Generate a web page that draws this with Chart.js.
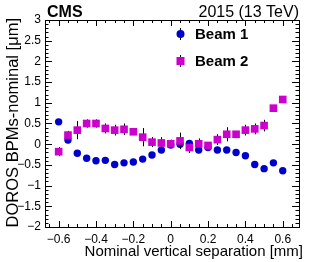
<!DOCTYPE html>
<html>
<head>
<meta charset="utf-8">
<script src="https://cdn.jsdelivr.net/npm/chart.js@4.4.1/dist/chart.umd.min.js"></script>
<style>
  html, body { margin: 0; padding: 0; background: #fff; }
  #wrap { width: 332px; height: 262px; }
</style>
</head>
<body>
<div id="wrap"><canvas id="chart" width="332" height="262"></canvas></div>
<script>
// Nominal vertical separation [mm]
const separation = [-0.6, -0.55, -0.5, -0.45, -0.4, -0.35, -0.3, -0.25, -0.2, -0.15, -0.1, -0.05,
    0, 0.05, 0.1, 0.15, 0.2, 0.25, 0.3, 0.35, 0.4, 0.45, 0.5, 0.55, 0.6];

// DOROS BPMs - nominal [um]
const beam1 = [0.54, 0.10, -0.22, -0.34, -0.40, -0.39, -0.49, -0.45, -0.43, -0.36, -0.26, -0.14,
    -0.02, 0.00, 0.02, -0.14, -0.08, -0.14, -0.14, -0.20, -0.28, -0.49, -0.59, -0.45, -0.64];
const beam1Err = [0.06, 0.08, 0.06, 0.06, 0.06, 0.06, 0.07, 0.06, 0.06, 0.06, 0.06, 0.06,
    0.06, 0.06, 0.06, 0.06, 0.06, 0.06, 0.06, 0.06, 0.06, 0.06, 0.06, 0.06, 0.06];

const beam2 = [-0.18, 0.22, 0.34, 0.50, 0.50, 0.38, 0.34, 0.36, 0.30, 0.17, 0.05, 0.03,
    0.01, 0.08, -0.08, 0.01, -0.03, 0.11, 0.24, 0.24, 0.34, 0.37, 0.45, 0.87, 1.08];
const beam2Err = [0.11, 0.10, 0.22, 0.10, 0.10, 0.12, 0.13, 0.14, 0.08, 0.22, 0.12, 0.14,
    0.10, 0.20, 0.13, 0.13, 0.08, 0.13, 0.17, 0.06, 0.13, 0.13, 0.14, 0.05, 0.05];

const xTickLabels = [-0.6, -0.4, -0.2, 0, 0.2, 0.4, 0.6];
const yTickLabels = [-2, -1.5, -1, -0.5, 0, 0.5, 1, 1.5, 2, 2.5, 3];

const BLUE = '#0000cc';
const MAGENTA = '#cc00cc';
const FONT = '"Liberation Sans", Arial, sans-serif';

const errors = [beam1Err, beam2Err];

function fmt(v) {
    const s = String(Math.round(v * 10) / 10);
    return v < 0 ? '\u2212' + s.slice(1) : s;
}

// vertical error bars per dataset, drawn just before its markers
const errorBars = {
    id: 'errorBars',
    beforeDatasetDraw(chart, args) {
        const ctx = chart.ctx;
        const x = chart.scales.x, y = chart.scales.y;
        const err = errors[args.index];
        const ds = chart.data.datasets[args.index];
        ctx.save();
        ctx.strokeStyle = '#000';
        ctx.lineWidth = 1;
        ds.data.forEach((p, i) => {
            const px = Math.round(x.getPixelForValue(p.x)) + 0.5;
            ctx.beginPath();
            ctx.moveTo(px, y.getPixelForValue(p.y - err[i]));
            ctx.lineTo(px, y.getPixelForValue(p.y + err[i]));
            ctx.stroke();
        });
        ctx.restore();
    }
};

// ROOT-like frame with inner ticks on all four sides, titles, header texts and legend
const frame = {
    id: 'frame',
    afterDraw(chart) {
        const ctx = chart.ctx;
        const a = chart.chartArea;
        const x = chart.scales.x, y = chart.scales.y;
        ctx.save();
        ctx.strokeStyle = '#000';
        ctx.lineWidth = 1;
        ctx.strokeRect(Math.round(a.left) + 0.5, Math.round(a.top) + 0.5,
            Math.round(a.right - a.left), Math.round(a.bottom - a.top));

        ctx.beginPath();
        for (let v = -0.65; v <= 0.651; v += 0.05) {
            const major = Math.abs(v * 5 - Math.round(v * 5)) < 1e-6;
            const len = major ? 6 : 3;
            const px = Math.round(x.getPixelForValue(v)) + 0.5;
            ctx.moveTo(px, a.bottom); ctx.lineTo(px, a.bottom - len);
            ctx.moveTo(px, a.top); ctx.lineTo(px, a.top + len);
        }
        for (let v = -2; v <= 3.001; v += 0.1) {
            const major = Math.abs(v * 2 - Math.round(v * 2)) < 1e-6;
            const len = major ? 7 : 3.5;
            const py = Math.round(y.getPixelForValue(v)) + 0.5;
            ctx.moveTo(a.left, py); ctx.lineTo(a.left + len, py);
            ctx.moveTo(a.right, py); ctx.lineTo(a.right - len, py);
        }
        ctx.stroke();

        ctx.fillStyle = '#000';
        ctx.textBaseline = 'alphabetic';

        // axis titles
        ctx.font = '15px ' + FONT;
        ctx.textAlign = 'right';
        ctx.fillText('Nominal vertical separation [mm]', 303, 256);
        ctx.save();
        ctx.translate(18, 18);
        ctx.rotate(-Math.PI / 2);
        ctx.font = '16.5px ' + FONT;
        ctx.textAlign = 'right';
        ctx.fillText('DOROS BPMs-nominal [\u03bcm]', 0, 0);
        ctx.restore();

        ctx.font = 'bold 16px ' + FONT;
        ctx.textAlign = 'left';
        ctx.fillText('CMS', 47, 16.5);
        ctx.font = '16px ' + FONT;
        ctx.textAlign = 'right';
        ctx.fillText('2015 (13 TeV)', a.right, 16.5);

        // legend
        const items = [
            { label: 'Beam 1', color: BLUE, style: 'circle', y: 34 },
            { label: 'Beam 2', color: MAGENTA, style: 'rect', y: 61 }
        ];
        items.forEach(it => {
            ctx.beginPath();
            ctx.moveTo(180.5, it.y - 6); ctx.lineTo(180.5, it.y + 6);
            ctx.stroke();
            ctx.fillStyle = it.color;
            if (it.style === 'circle') {
                ctx.beginPath();
                ctx.arc(180.5, it.y, 4, 0, Math.PI * 2);
                ctx.fill();
            } else {
                ctx.fillRect(176.5, it.y - 4, 8, 8);
            }
            ctx.fillStyle = '#000';
            ctx.font = 'bold 15px ' + FONT;
            ctx.textAlign = 'left';
            ctx.textBaseline = 'middle';
            ctx.fillText(it.label, 195, it.y + 0.5);
        });
        ctx.restore();
    }
};

new Chart(document.getElementById('chart'), {
    type: 'scatter',
    data: {
        datasets: [
            {
                label: 'Beam 1',
                data: separation.map((s, i) => ({ x: s, y: beam1[i] })),
                pointStyle: 'circle',
                pointRadius: 3.7,
                pointBackgroundColor: BLUE,
                pointBorderWidth: 0,
                order: 2
            },
            {
                label: 'Beam 2',
                data: separation.map((s, i) => ({ x: s, y: beam2[i] })),
                pointStyle: 'rect',
                pointRadius: 5.4,
                pointBackgroundColor: MAGENTA,
                pointBorderWidth: 0,
                order: 1
            }
        ]
    },
    options: {
        responsive: false,
        animation: false,
        devicePixelRatio: 1,
        layout: { padding: { top: 20, right: 33, left: 0, bottom: 0 } },
        plugins: { legend: { display: false }, tooltip: { enabled: false } },
        scales: {
            x: {
                type: 'linear',
                min: -0.673,
                max: 0.687,
                grid: { display: false, drawTicks: false },
                border: { display: false },
                afterBuildTicks: (scale) => { scale.ticks = xTickLabels.map(v => ({ value: v })); },
                afterFit: (scale) => { scale.height = 35; },
                ticks: {
                    autoSkip: false,
                    maxRotation: 0,
                    padding: 5,
                    color: '#000',
                    font: { family: FONT, size: 12 },
                    callback: (v) => fmt(v)
                }
            },
            y: {
                type: 'linear',
                min: -2,
                max: 3,
                grid: { display: false, drawTicks: false },
                border: { display: false },
                afterBuildTicks: (scale) => { scale.ticks = yTickLabels.map(v => ({ value: v })); },
                afterFit: (scale) => { scale.width = 45; },
                ticks: {
                    autoSkip: false,
                    padding: 4,
                    color: '#000',
                    font: { family: FONT, size: 12 },
                    callback: (v) => fmt(v)
                }
            }
        }
    },
    plugins: [errorBars, frame]
});
</script>
</body>
</html>
